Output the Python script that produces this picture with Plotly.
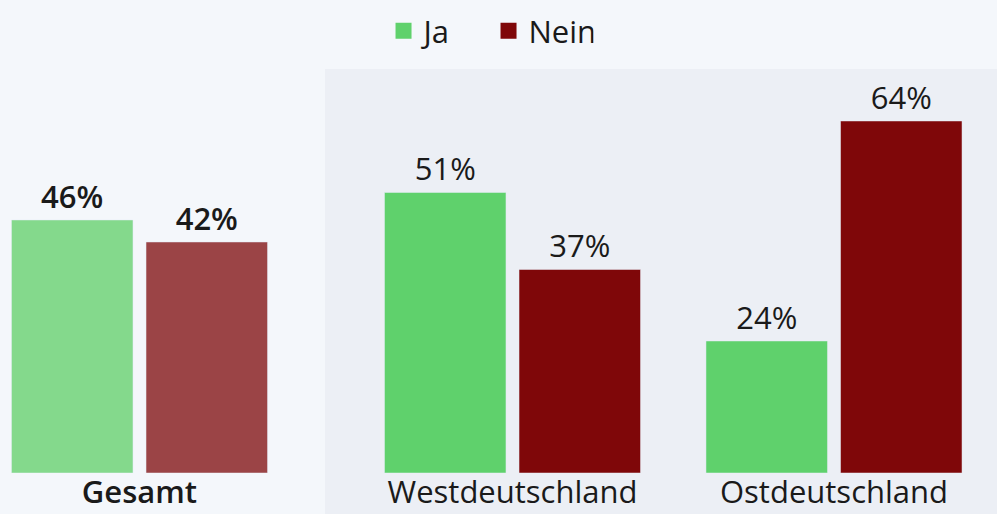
import plotly.graph_objects as go

series_names = ["Ja", "Nein"]
total_category = ["Gesamt"]
total_ja = [46]
total_nein = [42]
region_categories = ["Westdeutschland", "Ostdeutschland"]
region_ja = [51, 24]
region_nein = [37, 64]

GREEN = "#5fd16c"
RED = "#7f0709"
GREEN_LIGHT = "#84d98c"
RED_LIGHT = "#9b4446"
FONT = "Open Sans"
FS = 31
TXT = "#1a1a1a"

fig = go.Figure()

# Gesamt panel (lighter colours, semibold labels)
fig.add_trace(go.Bar(x=total_category, y=total_ja, name="Ja", marker_color=GREEN_LIGHT,
                     text=[f"{v}%" for v in total_ja], textposition="outside",
                     textfont=dict(family=FONT, size=FS, color=TXT, weight=600),
                     cliponaxis=False, showlegend=False, xaxis="x", yaxis="y"))
fig.add_trace(go.Bar(x=total_category, y=total_nein, name="Nein", marker_color=RED_LIGHT,
                     text=[f"{v}%" for v in total_nein], textposition="outside",
                     textfont=dict(family=FONT, size=FS, color=TXT, weight=600),
                     cliponaxis=False, showlegend=False, xaxis="x", yaxis="y"))

# Regional panel
fig.add_trace(go.Bar(x=region_categories, y=region_ja, name="Ja", marker_color=GREEN,
                     text=[f"{v}%" for v in region_ja], textposition="outside",
                     textfont=dict(family=FONT, size=FS, color=TXT),
                     cliponaxis=False, showlegend=False, xaxis="x2", yaxis="y"))
fig.add_trace(go.Bar(x=region_categories, y=region_nein, name="Nein", marker_color=RED,
                     text=[f"{v}%" for v in region_nein], textposition="outside",
                     textfont=dict(family=FONT, size=FS, color=TXT),
                     cliponaxis=False, showlegend=False, xaxis="x2", yaxis="y"))

# legend entries (square swatches)
for name, col in zip(series_names, [GREEN, RED]):
    fig.add_trace(go.Scatter(x=[None], y=[None], mode="markers", name=name,
                             marker=dict(symbol="square", size=22, color=col),
                             xaxis="x2", yaxis="y", showlegend=True))

fig.add_shape(type="rect", xref="paper", yref="paper",
              x0=325 / 997, x1=1.0, y0=-41 / 404, y1=1.0,
              fillcolor="#eceff5", line=dict(width=0), layer="below")

fig.update_layout(
    width=997, height=514,
    margin=dict(l=0, r=0, t=69, b=41),
    paper_bgcolor="#f4f7fb",
    plot_bgcolor="rgba(0,0,0,0)",
    barmode="group",
    bargap=0.163,
    bargroupgap=0.097,
    font=dict(family=FONT, color=TXT),
    xaxis=dict(domain=[0, 300 / 997], range=[-0.4339, 0.4992], type="category",
               tickfont=dict(family=FONT, size=FS, color=TXT, weight=600),
               showgrid=False, zeroline=False, showline=False, ticks="",
               ticklabelstandoff=-2),
    xaxis2=dict(domain=[329 / 997, 1.0], range=[-0.5708, 1.507], type="category",
                anchor="y", tickfont=dict(family=FONT, size=FS, color=TXT),
                showgrid=False, zeroline=False, showline=False, ticks="",
                ticklabelstandoff=-2),
    yaxis=dict(range=[0, 73.45], visible=False, showgrid=False, zeroline=False),
    legend=dict(orientation="h", x=0.49, xanchor="center", y=1.094, yanchor="middle",
                font=dict(family=FONT, size=FS, color=TXT),
                entrywidth=60, entrywidthmode="pixels",
                bgcolor="rgba(0,0,0,0)", itemsizing="trace"),
)

fig.write_html(
    "out.html",
    config={"displayModeBar": False},
    post_script="document.body.style.margin='0';document.body.style.overflow='hidden';"
                "document.body.style.background='#f4f7fb';",
)
